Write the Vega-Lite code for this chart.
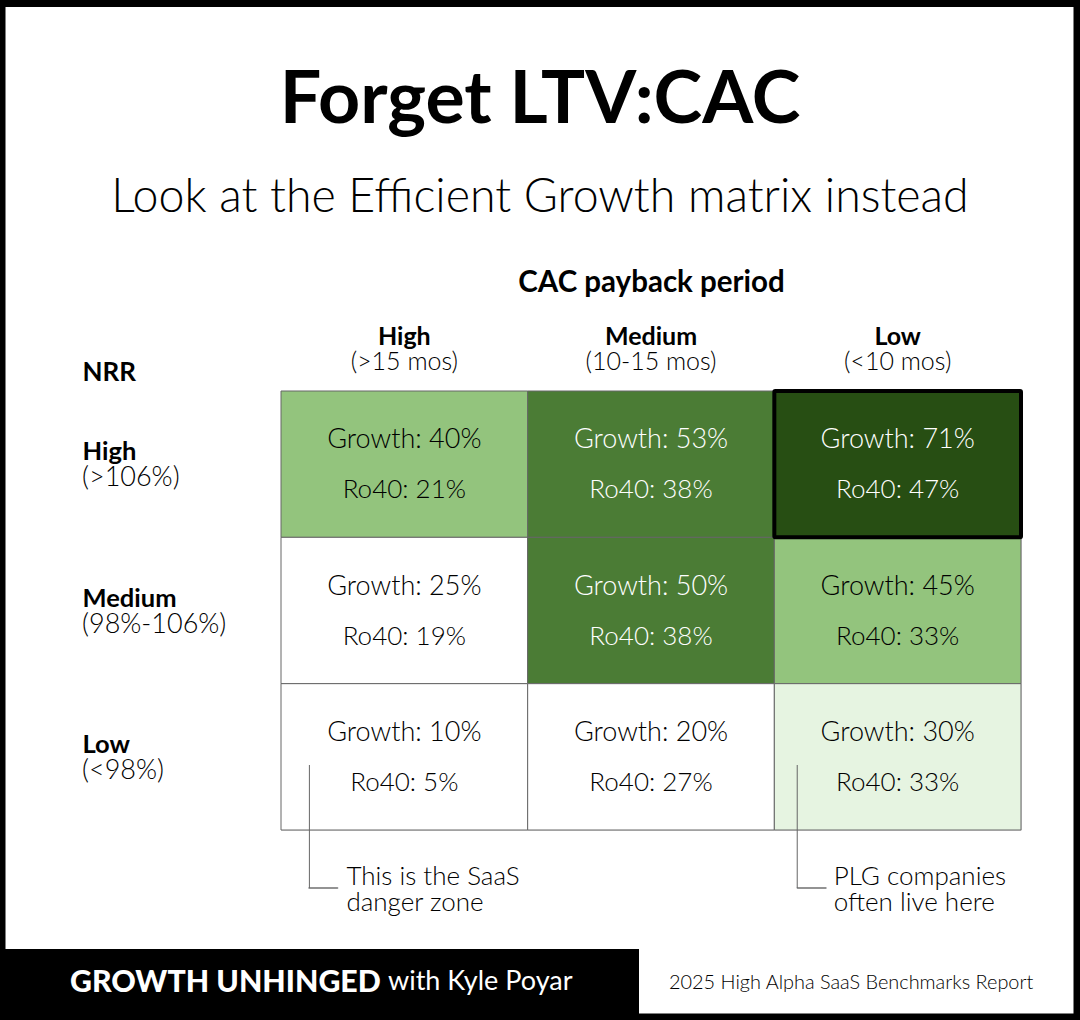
{
  "$schema": "https://vega.github.io/schema/vega-lite/v6.json",
  "width": 740,
  "height": 439,
  "autosize": {"type": "none"},
  "padding": {"left": 281, "top": 391, "right": 59, "bottom": 190},
  "background": "#ffffff",
  "title": {
    "text": "Forget LTV:CAC",
    "subtitle": "Look at the Efficient Growth matrix instead",
    "anchor": "middle",
    "frame": "group",
    "dx": -111,
    "offset": -222,
    "font": "Lato",
    "fontSize": 73.5,
    "fontWeight": "bold",
    "color": "#000000",
    "subtitleFont": "Lato",
    "subtitleFontSize": 46.5,
    "subtitleFontWeight": 300,
    "subtitleColor": "#000000",
    "subtitlePadding": 36
  },
  "datasets": {
    "cells": [
      {"payback": "High", "nrr": "High", "growth": 40, "ro40": 21, "tier": "strong", "best": false},
      {"payback": "Medium", "nrr": "High", "growth": 53, "ro40": 38, "tier": "great", "best": false},
      {"payback": "Low", "nrr": "High", "growth": 71, "ro40": 47, "tier": "best", "best": true},
      {"payback": "High", "nrr": "Medium", "growth": 25, "ro40": 19, "tier": "none", "best": false},
      {"payback": "Medium", "nrr": "Medium", "growth": 50, "ro40": 38, "tier": "great", "best": false},
      {"payback": "Low", "nrr": "Medium", "growth": 45, "ro40": 33, "tier": "strong", "best": false},
      {"payback": "High", "nrr": "Low", "growth": 10, "ro40": 5, "tier": "none", "best": false},
      {"payback": "Medium", "nrr": "Low", "growth": 20, "ro40": 27, "tier": "none", "best": false},
      {"payback": "Low", "nrr": "Low", "growth": 30, "ro40": 33, "tier": "fair", "best": false}
    ],
    "paybackRanges": [
      {"payback": "High", "range": "(>15 mos)"},
      {"payback": "Medium", "range": "(10-15 mos)"},
      {"payback": "Low", "range": "(<10 mos)"}
    ],
    "nrrRanges": [
      {"nrr": "High", "range": "(>106%)"},
      {"nrr": "Medium", "range": "(98%-106%)"},
      {"nrr": "Low", "range": "(<98%)"}
    ],
    "callouts": [
      {"payback": "High", "nrr": "Low", "line1": "This is the SaaS", "line2": "danger zone"},
      {"payback": "Low", "nrr": "Low", "line1": "PLG companies", "line2": "often live here"}
    ],
    "sheet": [{"brand": "GROWTH UNHINGED", "byline": "with Kyle Poyar", "source": "2025 High Alpha SaaS Benchmarks Report"}]
  },
  "layer": [
    {
      "data": {"name": "sheet"},
      "mark": {"type": "rect", "fill": "#000000"},
      "encoding": {
        "x": {"value": -281},
        "x2": {"value": 358},
        "y": {"value": 558},
        "y2": {"value": 629}
      }
    },
    {
      "data": {"name": "sheet"},
      "mark": {"type": "rect", "fill": null, "stroke": "#000000", "strokeWidth": 7},
      "encoding": {
        "x": {"value": -279},
        "x2": {"value": 796},
        "y": {"value": -387.5},
        "y2": {"value": 626}
      }
    },
    {
      "data": {"name": "cells"},
      "mark": {"type": "rect", "stroke": "#666666", "strokeWidth": 1},
      "encoding": {
        "x": {
          "field": "payback",
          "type": "nominal",
          "sort": ["High", "Medium", "Low"],
          "scale": {"paddingInner": 0, "paddingOuter": 0},
          "axis": {
            "orient": "top",
            "title": "CAC payback period",
            "titleFont": "Lato",
            "titleFontSize": 29.5,
            "titleFontWeight": "bold",
            "titleColor": "#000000",
            "titleBaseline": "middle",
            "titleY": -109,
            "domain": false,
            "ticks": false,
            "labelAngle": 0,
            "labelFont": "Lato",
            "labelFontSize": 25,
            "labelFontWeight": "bold",
            "labelColor": "#000000",
            "labelBaseline": "middle",
            "labelPadding": 55
          }
        },
        "y": {
          "field": "nrr",
          "type": "nominal",
          "sort": ["High", "Medium", "Low"],
          "scale": {"paddingInner": 0, "paddingOuter": 0},
          "axis": {
            "title": "NRR",
            "titleFont": "Lato",
            "titleFontSize": 26,
            "titleFontWeight": "bold",
            "titleColor": "#000000",
            "titleAngle": 0,
            "titleAlign": "left",
            "titleBaseline": "middle",
            "titleX": -199,
            "titleY": -19,
            "domain": false,
            "ticks": false,
            "labelAlign": "left",
            "labelBaseline": "middle",
            "labelFont": "Lato",
            "labelFontSize": 25.5,
            "labelFontWeight": "bold",
            "labelColor": "#000000",
            "labelPadding": 199,
            "labelOffset": -12
          }
        },
        "color": {
          "field": "tier",
          "type": "nominal",
          "legend": null,
          "scale": {
            "domain": ["none", "fair", "strong", "great", "best"],
            "range": ["#ffffff", "#e6f4e1", "#93c47d", "#4b7c35", "#274e13"]
          }
        }
      }
    },
    {
      "data": {"name": "cells"},
      "transform": [{"filter": "datum.best"}],
      "mark": {"type": "rect", "fill": null, "stroke": "#000000", "strokeWidth": 4, "cornerRadius": 1},
      "encoding": {
        "x": {"field": "payback", "type": "nominal", "sort": ["High", "Medium", "Low"]},
        "y": {"field": "nrr", "type": "nominal", "sort": ["High", "Medium", "Low"]}
      }
    },
    {
      "data": {"name": "cells"},
      "transform": [{"calculate": "'Growth: ' + datum.growth + '%'", "as": "growthLabel"}],
      "mark": {"type": "text", "font": "Lato", "fontWeight": 300, "fontSize": 27, "dy": -24},
      "encoding": {
        "x": {"field": "payback", "type": "nominal", "sort": ["High", "Medium", "Low"]},
        "y": {"field": "nrr", "type": "nominal", "sort": ["High", "Medium", "Low"]},
        "text": {"field": "growthLabel"},
        "color": {"condition": {"test": "datum.tier === 'great' || datum.tier === 'best'", "value": "#ffffff"}, "value": "#000000"}
      }
    },
    {
      "data": {"name": "cells"},
      "transform": [{"calculate": "'Ro40: ' + datum.ro40 + '%'", "as": "ro40Label"}],
      "mark": {"type": "text", "font": "Lato", "fontWeight": 300, "fontSize": 26, "dy": 26},
      "encoding": {
        "x": {"field": "payback", "type": "nominal", "sort": ["High", "Medium", "Low"]},
        "y": {"field": "nrr", "type": "nominal", "sort": ["High", "Medium", "Low"]},
        "text": {"field": "ro40Label"},
        "color": {"condition": {"test": "datum.tier === 'great' || datum.tier === 'best'", "value": "#ffffff"}, "value": "#000000"}
      }
    },
    {
      "data": {"name": "paybackRanges"},
      "mark": {"type": "text", "font": "Lato", "fontWeight": 300, "fontSize": 25, "color": "#000000"},
      "encoding": {
        "x": {"field": "payback", "type": "nominal", "sort": ["High", "Medium", "Low"]},
        "y": {"value": -29},
        "text": {"field": "range"}
      }
    },
    {
      "data": {"name": "nrrRanges"},
      "mark": {"type": "text", "font": "Lato", "fontWeight": 300, "fontSize": 27, "align": "left", "dy": 14, "color": "#000000"},
      "encoding": {
        "x": {"value": -199},
        "y": {"field": "nrr", "type": "nominal", "sort": ["High", "Medium", "Low"]},
        "text": {"field": "range"}
      }
    },
    {
      "data": {"name": "callouts"},
      "mark": {"type": "rule", "stroke": "#666666", "strokeWidth": 1, "xOffset": {"expr": "datum.payback === 'High' ? 2.5 : -3"}},
      "encoding": {
        "x": {"field": "payback", "type": "nominal", "sort": ["High", "Medium", "Low"], "bandPosition": 0.105},
        "y": {"value": 374},
        "y2": {"value": 497}
      }
    },
    {
      "data": {"name": "callouts"},
      "mark": {"type": "tick", "orient": "horizontal", "stroke": "#666666", "thickness": 1, "size": 29, "xOffset": {"expr": "datum.payback === 'High' ? -81 : -86"}},
      "encoding": {
        "x": {"field": "payback", "type": "nominal", "sort": ["High", "Medium", "Low"]},
        "y": {"value": 497}
      }
    },
    {
      "data": {"name": "callouts"},
      "mark": {"type": "text", "font": "Lato", "fontWeight": 300, "fontSize": 26, "align": "left", "color": "#000000", "dx": {"expr": "datum.payback === 'High' ? 2 : -4"}},
      "encoding": {
        "x": {"field": "payback", "type": "nominal", "sort": ["High", "Medium", "Low"], "bandPosition": 0.257},
        "y": {"value": 486},
        "text": {"field": "line1"}
      }
    },
    {
      "data": {"name": "callouts"},
      "mark": {"type": "text", "font": "Lato", "fontWeight": 300, "fontSize": 26, "align": "left", "color": "#000000", "dx": {"expr": "datum.payback === 'High' ? 2 : -4"}},
      "encoding": {
        "x": {"field": "payback", "type": "nominal", "sort": ["High", "Medium", "Low"], "bandPosition": 0.257},
        "y": {"value": 512},
        "text": {"field": "line2"}
      }
    },
    {
      "data": {"name": "sheet"},
      "mark": {"type": "text", "font": "Lato", "fontWeight": 900, "fontSize": 30.3, "align": "left", "color": "#ffffff"},
      "encoding": {
        "x": {"value": -211},
        "y": {"value": 592},
        "text": {"field": "brand"}
      }
    },
    {
      "data": {"name": "sheet"},
      "mark": {"type": "text", "font": "Lato", "fontWeight": 400, "fontSize": 27, "align": "left", "color": "#ffffff"},
      "encoding": {
        "x": {"value": 107},
        "y": {"value": 591},
        "text": {"field": "byline"}
      }
    },
    {
      "data": {"name": "sheet"},
      "mark": {"type": "text", "font": "Lato", "fontWeight": 300, "fontSize": 19.9, "align": "left", "color": "#000000"},
      "encoding": {
        "x": {"value": 388},
        "y": {"value": 592},
        "text": {"field": "source"}
      }
    }
  ]
}
